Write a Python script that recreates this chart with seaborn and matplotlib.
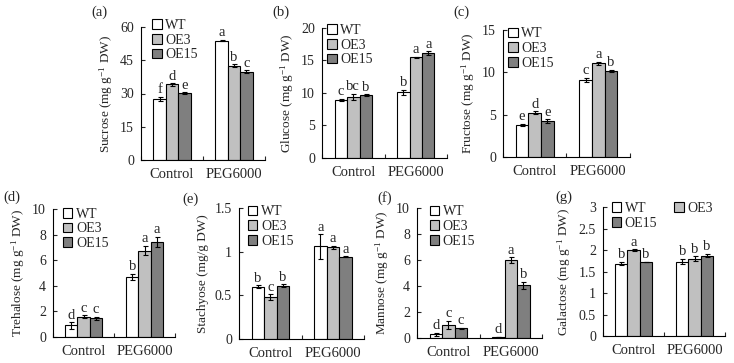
import matplotlib
matplotlib.use("Agg")
import matplotlib.pyplot as plt
import seaborn as sns
import pandas as pd
from matplotlib.ticker import MultipleLocator, FuncFormatter

# order of every array: Control WT, OE3, OE15, PEG6000 WT, OE3, OE15
treatments = ["Control", "PEG6000"]
lines = ["WT", "OE3", "OE15"]

sucrose = [27.5, 34.1, 30.1, 53.9, 42.5, 39.9]
sucrose_err = [1.1, 0.5, 0.4, 0.3, 0.6, 0.5]
sucrose_sig = ["f", "d", "e", "a", "b", "c"]

glucose = [8.9, 9.4, 9.7, 10.1, 15.5, 16.1]
glucose_err = [0.2, 0.5, 0.1, 0.4, 0.1, 0.3]
glucose_sig = ["c", "bc", "b", "b", "a", "a"]

fructose = [3.8, 5.25, 4.25, 9.1, 11.05, 10.15]
fructose_err = [0.15, 0.15, 0.2, 0.25, 0.2, 0.15]
fructose_sig = ["e", "d", "e", "c", "a", "b"]

trehalose = [0.9, 1.6, 1.45, 4.7, 6.75, 7.45]
trehalose_err = [0.25, 0.1, 0.15, 0.25, 0.35, 0.4]
trehalose_sig = ["d", "c", "c", "b", "a", "a"]

stachyose = [0.6, 0.48, 0.61, 1.06, 1.05, 0.94]
stachyose_err = [0.015, 0.03, 0.015, 0.14, 0.02, 0.005]
stachyose_sig = ["b", "c", "b", "a", "a", "a"]

mannose = [0.3, 1.0, 0.75, 0.08, 6.0, 4.05]
mannose_err = [0.12, 0.3, 0.05, 0.02, 0.2, 0.25]
mannose_sig = ["d", "c", "c", "d", "a", "b"]

galactose = [1.68, 2.0, 1.72, 1.73, 1.8, 1.87]
galactose_err = [0.04, 0.015, 0.005, 0.06, 0.05, 0.04]
galactose_sig = ["b", "a", "b", "b", "b", "b"]

W, H = 734, 363
sns.set_style("ticks")
plt.rcParams["font.family"] = ["Liberation Serif", "DejaVu Serif"]
plt.rcParams["mathtext.fontset"] = "custom"
plt.rcParams["mathtext.rm"] = "Liberation Serif"
plt.rcParams["mathtext.it"] = "Liberation Serif:italic"
plt.rcParams["mathtext.default"] = "regular"

palette = {"WT": "white", "OE3": "#c0c0c0", "OE15": "#7f7f7f"}

# tag, values, err, letters, ylabel, ymax, step, (left, top, width, bottom) px, tag xy px, legend anchor
panels = [
    ("(a)", sucrose, sucrose_err, sucrose_sig, "Sucrose (mg g$^{-1}$ DW)", 60, 15,
     (141, 27, 124, 160), (91, 12), (0.09, 1.06), 1),
    ("(b)", glucose, glucose_err, glucose_sig, "Glucose (mg g$^{-1}$ DW)", 20, 5,
     (322, 28, 125, 158), (272, 12), (0.04, 1.03), 1),
    ("(c)", fructose, fructose_err, fructose_sig, "Fructose (mg g$^{-1}$ DW)", 15, 5,
     (503, 30, 127, 157), (453, 12), (0.04, 1.02), 1),
    ("(d)", trehalose, trehalose_err, trehalose_sig, "Trehalose (mg g$^{-1}$ DW)", 10, 2,
     (53, 209, 122, 337), (3, 197), (0.08, 1.01), 1),
    ("(e)", stachyose, stachyose_err, stachyose_sig, "Stachyose (mg/g DW)", 1.5, 0.5,
     (239, 208, 125, 339), (182, 199), (0.07, 1.02), 1),
    ("(f)", mannose, mannose_err, mannose_sig, "Mannose (mg g$^{-1}$ DW)", 10, 2,
     (417, 208, 125, 338), (377, 198), (0.10, 1.02), 1),
    ("(g)", galactose, galactose_err, galactose_sig, "Galactose (mg g$^{-1}$ DW)", 3, 0.5,
     (603, 207, 122, 336), (555, 197), (0.07, 1.04), 2),
]

fig = plt.figure(figsize=(W / 100, H / 100), dpi=100)

for tag, vals, errs, sig, ylabel, ymax, step, rect, tagxy, anchor, ncol in panels:
    left, top, width, bottom = rect
    ax = fig.add_axes([left / W, 1 - bottom / H, width / W, (bottom - top) / H])
    df = pd.DataFrame({
        "treatment": [t for t in treatments for _ in lines],
        "line": lines * len(treatments),
        "value": vals,
    })
    sns.barplot(data=df, x="treatment", y="value", hue="line", hue_order=lines,
                palette=palette, edgecolor="black", linewidth=0.8, width=0.6,
                errorbar=None, legend=False, ax=ax)

    bar_groups = list(ax.containers)
    for k, cont in enumerate(bar_groups):
        for j, bar in enumerate(cont):
            i = j * len(lines) + k
            xc = bar.get_x() + bar.get_width() / 2
            h = bar.get_height()
            ax.errorbar(xc, h, yerr=errs[i], color="black", capsize=1.8,
                        elinewidth=0.8, capthick=0.8)
            ax.annotate(sig[i], (xc, h + errs[i]), xytext=(0, 0.5),
                        textcoords="offset points", ha="center", va="bottom",
                        fontsize=10.5)

    ax.set_xlim(-0.5, 1.5)
    ax.set_ylim(0, ymax)
    ax.yaxis.set_major_locator(MultipleLocator(step))
    ax.yaxis.set_major_formatter(FuncFormatter(lambda v, p: "%g" % v))
    ax.set_xticks([0, 1], treatments)
    ax.set_xticks([-0.5, 0.5, 1.5], minor=True)
    ax.tick_params(axis="x", which="major", length=0, pad=6, labelsize=10.5)
    ax.tick_params(axis="x", which="minor", direction="in", length=3, width=0.8)
    ax.tick_params(axis="y", direction="in", length=3, width=0.8, pad=5, labelsize=10)
    ax.set_xlabel("")
    ax.set_ylabel(ylabel, fontsize=9.5, labelpad=4)
    for s in ["left", "bottom"]:
        ax.spines[s].set_linewidth(0.8)
        ax.spines[s].set_color("black")
    sns.despine(ax=ax)

    handles = [cont[0] for cont in bar_groups]
    labels = list(lines)
    if ncol == 2:
        handles = [handles[0], handles[2], handles[1]]
        labels = [labels[0], labels[2], labels[1]]
    ax.legend(handles, labels, loc="upper left", bbox_to_anchor=anchor, ncol=ncol,
              frameon=False, fontsize=10, borderpad=0, borderaxespad=0,
              handlelength=0.7, handleheight=0.7, handletextpad=0.25,
              labelspacing=0.12, columnspacing=1.2)

    fig.text(tagxy[0] / W, 1 - tagxy[1] / H, tag, va="center", ha="left", fontsize=10.5)

fig.savefig("out.png", dpi=100)
